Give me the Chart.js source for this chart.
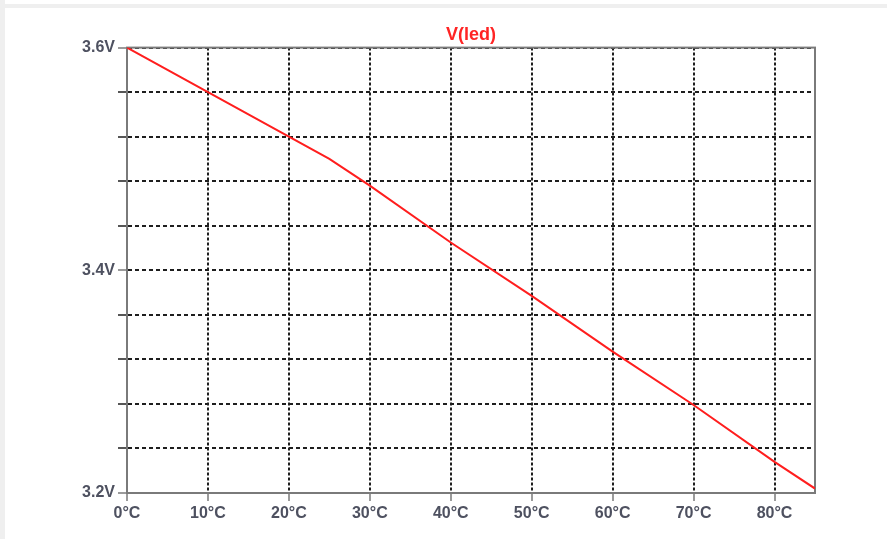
<!DOCTYPE html>
<html>
<head>
<meta charset="utf-8">
<script src="https://cdn.jsdelivr.net/npm/chart.js@4/dist/chart.umd.min.js"></script>
<style>
  html, body { margin: 0; padding: 0; background: #ffffff; }
  canvas { display: block; }
</style>
</head>
<body>
<canvas id="c" width="887" height="539"></canvas>
<script>
// LED forward voltage versus temperature
const temps = [0, 10, 20, 25, 30, 40, 50, 60, 70, 80, 85];
const vled  = [3.600, 3.560, 3.520, 3.500, 3.476, 3.425, 3.377, 3.327, 3.279, 3.228, 3.204];

// Axis ticks
const xTicks = [0, 10, 20, 30, 40, 50, 60, 70, 80];
const yTicks = [3.20, 3.24, 3.28, 3.32, 3.36, 3.40, 3.44, 3.48, 3.52, 3.56, 3.60];
const yLabelValues = [3.2, 3.4, 3.6];
const yLabelText = ['3.2V', '3.4V', '3.6V'];

const labelColor = '#4e5160';
const frameColor = '#7a7a7a';
const gridColor = '#1e1e1e';
const tickFont = { family: 'Liberation Sans, Arial, sans-serif', size: 16, weight: 'bold' };

function yLabelFor(v) {
  for (let i = 0; i < yLabelValues.length; i++) {
    if (Math.abs(v - yLabelValues[i]) < 1e-6) return yLabelText[i];
  }
  return '';
}

// Light edge strips and a full frame around the plot area
const decor = {
  id: 'decor',
  beforeDraw(chart) {
    const ctx = chart.ctx;
    ctx.save();
    ctx.fillStyle = '#efefef';
    ctx.fillRect(0, 4, chart.width, 4);
    ctx.fillRect(0, 0, 5, chart.height);
    ctx.restore();
  },
  beforeDatasetsDraw(chart) {
    const a = chart.chartArea;
    const ctx = chart.ctx;
    ctx.save();
    ctx.strokeStyle = frameColor;
    ctx.lineWidth = 2;
    ctx.strokeRect(a.left, a.top, a.right - a.left, a.bottom - a.top);
    ctx.restore();
  }
};

new Chart(document.getElementById('c'), {
  type: 'line',
  data: {
    datasets: [{
      label: 'V(led)',
      data: temps.map((t, i) => ({ x: t, y: vled[i] })),
      borderColor: '#ff1e1e',
      borderWidth: 2,
      pointRadius: 0,
      tension: 0,
      fill: false
    }]
  },
  options: {
    responsive: false,
    animation: false,
    layout: { padding: { top: 24, right: 72, bottom: 0, left: 0 } },
    plugins: {
      legend: { display: false },
      tooltip: { enabled: false },
      title: {
        display: true,
        text: 'V(led)',
        color: '#ff2424',
        fullSize: false,
        font: { family: 'Liberation Sans, Arial, sans-serif', size: 18, weight: 'bold' },
        padding: { top: 0, bottom: 2 }
      }
    },
    scales: {
      x: {
        type: 'linear',
        min: 0,
        max: 85,
        afterBuildTicks(scale) { scale.ticks = xTicks.map(v => ({ value: v })); },
        afterFit(scale) { scale.height = 46; },
        grid: {
          color: gridColor,
          lineWidth: 2,
          tickLength: 8,
          tickColor: frameColor,
          tickWidth: 1.5
        },
        border: { display: true, color: frameColor, width: 2, dash: [3, 2] },
        ticks: {
          color: labelColor,
          font: tickFont,
          padding: 3,
          maxRotation: 0,
          callback: v => v + '°C'
        }
      },
      y: {
        type: 'linear',
        min: 3.2,
        max: 3.6,
        afterBuildTicks(scale) { scale.ticks = yTicks.map(v => ({ value: v })); },
        afterFit(scale) { scale.width = 127; },
        grid: {
          color: gridColor,
          lineWidth: 2,
          tickLength: 9,
          tickColor: ctx => (yLabelFor(ctx.tick ? ctx.tick.value : NaN) ? frameColor : gridColor),
          tickWidth: 1.5
        },
        border: { display: true, color: frameColor, width: 2, dash: [4, 3] },
        ticks: {
          color: labelColor,
          font: tickFont,
          padding: 3,
          autoSkip: false,
          callback: v => yLabelFor(v)
        }
      }
    }
  },
  plugins: [decor]
});
</script>
</body>
</html>
